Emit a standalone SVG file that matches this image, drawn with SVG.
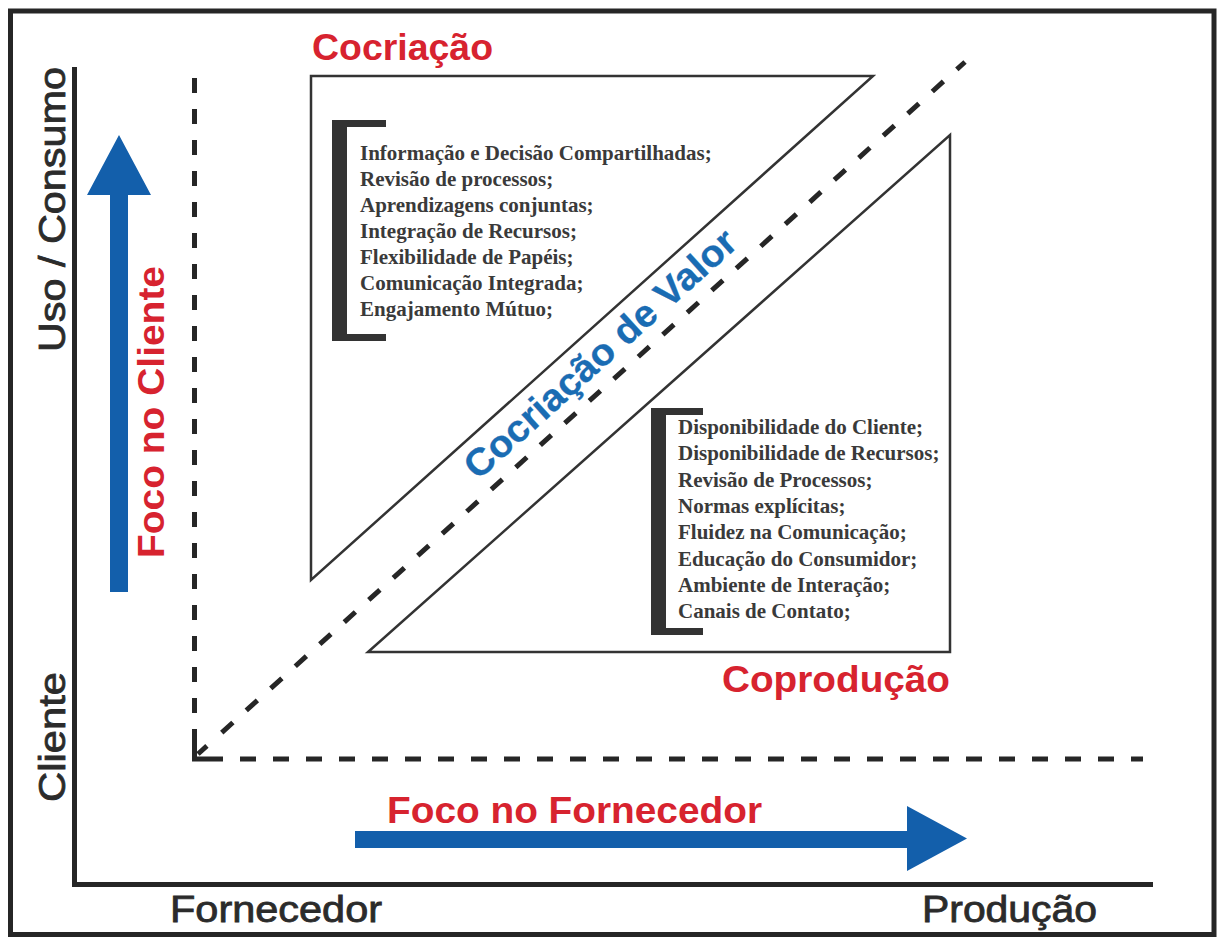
<svg xmlns="http://www.w3.org/2000/svg" width="1217" height="938" viewBox="0 0 1217 938">
  <style>
    .frame { fill: #ffffff; stroke: #262626; stroke-width: 5; }
    .axis { fill: none; stroke: #262626; stroke-width: 5; }
    .dash { fill: none; stroke: #262626; stroke-width: 5; stroke-dasharray: 16 17; }
    .zone { fill: #ffffff; stroke: #333333; stroke-width: 2.5; stroke-linejoin: miter; }
    .bracket { fill: #333333; }
    .blue { fill: #135fab; }
    .item { font-family: "Liberation Serif", "Times New Roman", serif; font-weight: bold; font-size: 21px; fill: #3a3a3a; }
    .red { font-family: "Liberation Sans", Arial, sans-serif; font-weight: bold; font-size: 37px; fill: #d7232f; }
    .axislabel { font-family: "Liberation Sans", Arial, sans-serif; font-size: 36px; fill: #2b2b2b; stroke: #2b2b2b; stroke-width: 0.8; }
    .value { font-family: "Liberation Sans", Arial, sans-serif; font-size: 38px; fill: #1a6cb3; stroke: #1a6cb3; stroke-width: 0.3; }
  </style>

  <rect id="frame" class="frame" x="10.5" y="11" width="1203.5" height="923.5"/>

  <g id="axes">
    <path class="axis" d="M74.5 67 V884.5 H1153"/>
    <text class="axislabel" transform="translate(65,352) rotate(-90)" textLength="285" lengthAdjust="spacingAndGlyphs">Uso / Consumo</text>
    <text class="axislabel" transform="translate(65,802) rotate(-90)" textLength="130" lengthAdjust="spacingAndGlyphs">Cliente</text>
    <text class="axislabel" x="170" y="922" textLength="212" lengthAdjust="spacingAndGlyphs">Fornecedor</text>
    <text class="axislabel" x="922" y="922" textLength="175" lengthAdjust="spacingAndGlyphs">Produção</text>
  </g>

  <g id="cocriacao">
    <polygon class="zone" points="311,76 873,76 311,580"/>
    <path class="bracket" d="M332 120 H386 V127 H347 V334 H386 V341 H332 Z"/>
    <text class="red" x="312" y="60" textLength="181" lengthAdjust="spacingAndGlyphs">Cocriação</text>
    <g class="item">
      <text x="360" y="160">Informação e Decisão Compartilhadas;</text>
      <text x="360" y="186">Revisão de processos;</text>
      <text x="360" y="212">Aprendizagens conjuntas;</text>
      <text x="360" y="238">Integração de Recursos;</text>
      <text x="360" y="264">Flexibilidade de Papéis;</text>
      <text x="360" y="290">Comunicação Integrada;</text>
      <text x="360" y="316">Engajamento Mútuo;</text>
    </g>
  </g>

  <g id="coproducao">
    <polygon class="zone" points="950,135 950,652 368,652"/>
    <path class="bracket" d="M651 408 H703 V415 H666 V628 H703 V635 H651 Z"/>
    <text class="red" x="722" y="692" textLength="228" lengthAdjust="spacingAndGlyphs">Coprodução</text>
    <g class="item">
      <text x="678" y="434">Disponibilidade do Cliente;</text>
      <text x="678" y="460">Disponibilidade de Recursos;</text>
      <text x="678" y="487">Revisão de Processos;</text>
      <text x="678" y="513">Normas explícitas;</text>
      <text x="678" y="539">Fluidez na Comunicação;</text>
      <text x="678" y="566">Educação do Consumidor;</text>
      <text x="678" y="592">Ambiente de Interação;</text>
      <text x="678" y="618">Canais de Contato;</text>
    </g>
  </g>

  <g id="connectors">
    <path class="dash" d="M194.5 78 V741" style="stroke-dasharray: 15 16"/>
    <path class="dash" d="M240 759 H1143"/>
    <path class="axis" d="M194.5 741 V759 H223"/>
    <path class="dash" d="M198 754 L965 62" style="stroke-dasharray: 12 20 15 18 15 18 15 18 15 18 15 18 15 18 15 18 15 18 15 18 15 18 15 18 15 18 15 18 15 18 15 18 15 18 15 18 15 18 15 18 15 18 15 18 15 18 15 18 15 18 15 18 15 18 15 18 15 18 15 18 15 18 15 18 15 18"/>
  </g>

  <g id="arrow-cliente">
    <polygon class="blue" points="110,592 110,195 87,195 119,135 151,195 128,195 128,592"/>
    <text class="red" transform="translate(164,558) rotate(-90)" textLength="292" lengthAdjust="spacingAndGlyphs">Foco no Cliente</text>
  </g>

  <g id="arrow-fornecedor">
    <polygon class="blue" points="355,831 907,831 907,806 967,838.5 907,871 907,848 355,848"/>
    <text class="red" x="387" y="823" textLength="375" lengthAdjust="spacingAndGlyphs">Foco no Fornecedor</text>
  </g>

  <g id="cocriacao-de-valor">
    <text class="value" font-weight="bold" transform="translate(478,481) rotate(-42)" textLength="352" lengthAdjust="spacingAndGlyphs">Cocriação de Valor</text>
  </g>
</svg>
